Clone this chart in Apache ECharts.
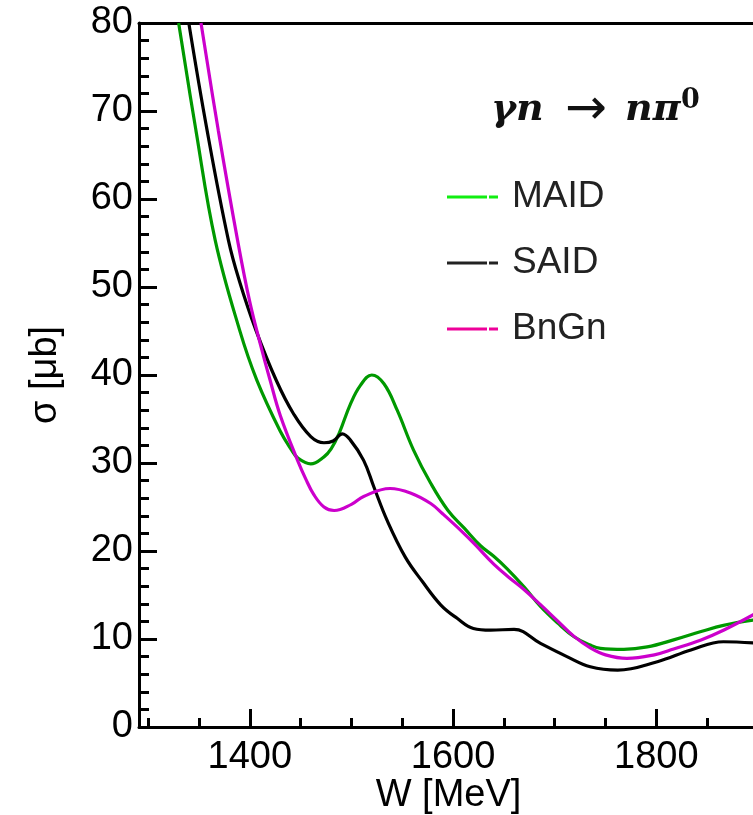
<!DOCTYPE html>
<html>
<head>
<meta charset="utf-8">
<script src="https://cdn.jsdelivr.net/npm/echarts@6/dist/echarts.min.js"></script>
<style>html,body{margin:0;padding:0;background:#fff}#c{width:753px;height:815px}</style>
</head>
<body>
<div id="c"></div>
<script>
// ---- data ----
const seriesNames = ['MAID', 'SAID', 'BnGn'];
const W_MAID = [1330, 1347, 1366, 1390, 1407, 1430, 1441, 1447, 1460, 1473, 1480, 1488, 1499, 1509, 1520, 1532, 1545, 1561, 1578, 1595, 1611, 1627, 1640, 1653, 1670, 1686, 1703, 1719, 1735, 1745, 1768, 1791, 1817, 1844, 1866, 1896];
const S_MAID = [80, 67.8, 55.3, 45.1, 39.4, 33.6, 31.5, 30.6, 29.9, 30.7, 31.6, 33.4, 36.7, 38.85, 40.0, 39.0, 36.0, 31.5, 27.7, 24.6, 22.6, 20.6, 19.4, 18.0, 15.9, 13.7, 11.8, 10.26, 9.31, 8.94, 8.83, 9.1, 9.9, 10.85, 11.55, 12.15];
const W_SAID = [1340, 1358, 1379, 1390, 1406, 1426, 1443, 1460, 1473, 1482, 1491, 1499, 1512, 1522, 1535, 1553, 1570, 1588, 1604, 1620, 1637, 1660, 1686, 1712, 1735, 1762, 1801, 1834, 1866, 1896];
const S_SAID = [80, 67.8, 55.3, 50.6, 45.1, 39.4, 35.6, 33.0, 32.3, 32.5, 33.3, 32.6, 30.3, 27.3, 23.5, 19.3, 16.5, 13.86, 12.35, 11.2, 11.0, 11.1, 9.5, 8.0, 6.85, 6.47, 7.42, 8.75, 9.69, 9.55];
const W_BnGn = [1352, 1369, 1388, 1400, 1412, 1420, 1430, 1447, 1455, 1463, 1473, 1483, 1500, 1512, 1538, 1558, 1578, 1590, 1607, 1621, 1640, 1655, 1670, 1686, 1702, 1719, 1735, 1750, 1771, 1798, 1817, 1844, 1866, 1896];
const S_BnGn = [80, 67.8, 55.3, 48.3, 42.8, 39.4, 35.4, 30.3, 28.2, 26.4, 25.0, 24.6, 25.3, 26.2, 27.1, 26.6, 25.4, 24.2, 22.4, 20.8, 18.5, 17.0, 15.6, 13.9, 12.15, 10.3, 9.0, 8.2, 7.8, 8.2, 8.86, 9.9, 11.0, 12.8];
const xMajorTicks = [1400, 1600, 1800];
const xMinorTicks = [1300, 1350, 1450, 1500, 1550, 1650, 1700, 1750, 1850, 1900];
const xRange = [1291, 1900];
const yRange = [0, 80];
const yInterval = 10;

const toPairs = (ws, ss) => ws.map((w, i) => [w, ss[i]]);

const lineColors = ['#009900', '#000000', '#cc00cc'];
const legendColors = ['#11ee11', '#222222', '#ee0099'];
const FONT = 'Liberation Sans';
const legendIcon = 'path://M0,0H40V3H0Z M42,0H51V3H42Z';
const mathStyle = {fontFamily: 'DejaVu Serif', fontStyle: 'italic', fontWeight: 'bold', fontSize: 38, color: '#111'};

const chart = echarts.init(document.getElementById('c'), null, {renderer: 'canvas'});
const axisLine = {show: true, lineStyle: {color: '#000', width: 3}};

chart.setOption({
  animation: false,
  backgroundColor: '#fff',
  title: [
    {text: 'γn', left: 491, top: 91, padding: 0, textStyle: mathStyle},
    {text: '→', left: 565, top: 86, padding: 0, textStyle: {fontFamily: 'DejaVu Sans', fontSize: 50, fontWeight: 'normal', color: '#111'}},
    {text: 'nπ', left: 625, top: 91, padding: 0, textStyle: mathStyle},
    {text: '0', left: 681, top: 87, padding: 0, textStyle: {fontFamily: 'DejaVu Serif', fontWeight: 'bold', fontSize: 27, color: '#111'}}
  ],
  legend: {
    orient: 'vertical', left: 447, top: 177, padding: 0,
    itemWidth: 51, itemHeight: 3, itemGap: 26,
    icon: legendIcon,
    textStyle: {fontFamily: FONT, fontSize: 37, color: '#222', lineHeight: 40, padding: [0, 0, 0, 9]},
    data: seriesNames.map((n, i) => ({name: n, itemStyle: {color: legendColors[i], borderWidth: 0}}))
  },
  grid: {left: 139, top: 23, width: 619, height: 704, containLabel: false, outerBoundsMode: 'none'},
  xAxis: [
    {
      type: 'value', min: xRange[0], max: xRange[1], position: 'bottom',
      axisLine: axisLine,
      axisTick: {show: true, inside: true, length: 18, lineStyle: {color: '#000', width: 3}, customValues: xMajorTicks},
      axisLabel: {fontFamily: FONT, fontSize: 38, color: '#000', margin: 12, customValues: xMajorTicks, formatter: v => String(v)},
      splitLine: {show: false},
      name: 'W [MeV]', nameLocation: 'middle', nameGap: 50, nameMoveOverlap: false,
      nameTextStyle: {fontFamily: FONT, fontSize: 38, color: '#000'}
    },
    {
      type: 'value', min: xRange[0], max: xRange[1], position: 'bottom',
      axisLine: {show: false},
      axisTick: {show: true, inside: true, length: 9, lineStyle: {color: '#000', width: 3}, customValues: xMinorTicks},
      axisLabel: {show: false},
      splitLine: {show: false}
    },
    {
      type: 'value', min: xRange[0], max: xRange[1], position: 'top',
      axisLine: axisLine, axisTick: {show: false}, axisLabel: {show: false}, splitLine: {show: false}
    }
  ],
  yAxis: {
    type: 'value', min: yRange[0], max: yRange[1], interval: yInterval,
    axisLine: axisLine,
    axisTick: {show: true, inside: true, length: 18, lineStyle: {color: '#000', width: 3}},
    minorTick: {show: true, splitNumber: 5, length: 10, lineStyle: {color: '#000', width: 3}},
    axisLabel: {fontFamily: FONT, fontSize: 38, color: '#000', margin: 6},
    splitLine: {show: false},
    name: 'σ [μb]', nameLocation: 'middle', nameGap: 74, nameMoveOverlap: false,
    nameTextStyle: {fontFamily: FONT, fontSize: 38, color: '#000'}
  },
  series: [
    {name: 'MAID', type: 'line', data: toPairs(W_MAID, S_MAID)},
    {name: 'SAID', type: 'line', data: toPairs(W_SAID, S_SAID)},
    {name: 'BnGn', type: 'line', data: toPairs(W_BnGn, S_BnGn)}
  ].map((s, i) => Object.assign(s, {
    xAxisIndex: 0, yAxisIndex: 0, showSymbol: false, symbol: 'none', smooth: 0.4, clip: true,
    lineStyle: {color: lineColors[i], width: 3.2}, itemStyle: {color: lineColors[i]}
  }))
});
</script>
</body>
</html>
